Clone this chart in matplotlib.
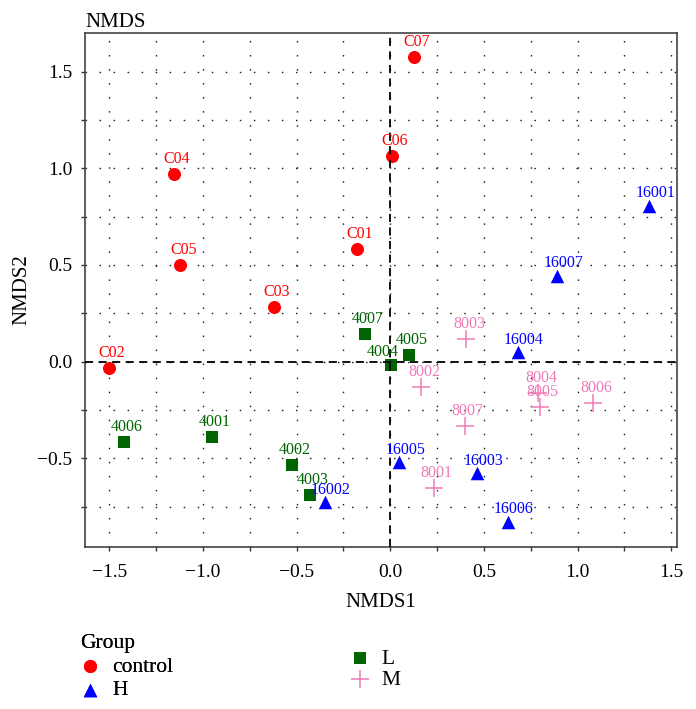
import matplotlib
matplotlib.use('Agg')
import matplotlib.pyplot as plt
from matplotlib.ticker import MultipleLocator

plt.rcParams['font.family'] = ['Liberation Serif', 'DejaVu Serif']

# Data
control_names = ['C01', 'C02', 'C03', 'C04', 'C05', 'C06', 'C07']
control_x = [-0.178, -1.502, -0.62, -1.153, -1.12, 0.007, 0.125]
control_y = [0.58, -0.031, 0.28, 0.969, 0.50, 1.066, 1.575]

L_names = ['4001', '4002', '4003', '4004', '4005', '4006', '4007']
L_x = [-0.95, -0.527, -0.43, 0.002, 0.098, -1.42, -0.133]
L_y = [-0.388, -0.536, -0.691, -0.02, 0.033, -0.414, 0.143]

M_names = ['8001', '8002', '8003', '8004', '8005', '8006', '8007']
M_x = [0.231, 0.166, 0.407, 0.79, 0.80, 1.084, 0.397]
M_y = [-0.652, -0.131, 0.117, -0.163, -0.233, -0.215, -0.333]

H_names = ['16001', '16002', '16003', '16004', '16005', '16006', '16007']
H_x = [1.383, -0.35, 0.465, 0.682, 0.048, 0.628, 0.892]
H_y = [0.807, -0.726, -0.577, 0.049, -0.52, -0.828, 0.445]

red = '#ff0000'
blue = '#0000ff'
green = '#006400'
pink = '#f07ab8'

fig = plt.figure(figsize=(6.96, 7.09), dpi=100)
ax = fig.add_axes([0.1221, 0.2285, 0.9727 - 0.1221, 0.9535 - 0.2285])

# dotted grid every 0.25
ax.xaxis.set_major_locator(MultipleLocator(0.5))
ax.xaxis.set_minor_locator(MultipleLocator(0.25))
ax.yaxis.set_major_locator(MultipleLocator(0.5))
ax.yaxis.set_minor_locator(MultipleLocator(0.25))
ax.grid(True, which='both', color='#222222', linestyle=(0, (1.1, 9)), linewidth=1.0)
ax.set_axisbelow(True)

h_c = ax.scatter(control_x, control_y, s=70, marker='o', color=red, zorder=3, label='control')
h_h = ax.scatter(H_x, H_y, s=95, marker='^', color=blue, zorder=3, label='H', linewidths=0)
h_l = ax.scatter(L_x, L_y, s=70, marker='s', color=green, zorder=3, label='L', linewidths=0)
h_m = ax.scatter(M_x, M_y, s=150, marker='+', color=pink, zorder=3, label='M', linewidths=1.1)

# zero lines on top
ax.axhline(0, color='black', linestyle=(0, (4.5, 3)), linewidth=1.3, zorder=4)
ax.axvline(0, color='black', linestyle=(0, (4.5, 3)), linewidth=1.3, zorder=4)


def put_labels(xs, ys, names, color, dx, dy):
    for x, y, n in zip(xs, ys, names):
        ox, oy = dx, dy
        if n == '4004':
            ox, oy = -5.5, 9.5
        ax.annotate(n, (x, y), xytext=(ox, oy), textcoords='offset points',
                    ha='center', va='center', color=color, fontsize=11.5, zorder=5)


put_labels(control_x, control_y, control_names, red, 2, 10.8)
put_labels(L_x, L_y, L_names, green, 2, 10.8)
put_labels(M_x, M_y, M_names, pink, 2, 10.8)
put_labels(H_x, H_y, H_names, blue, 4.3, 8.8)

ax.set_xlim(-1.630, 1.531)
ax.set_ylim(-0.959, 1.700)

ax.tick_params(which='both', direction='out', length=3, width=1, colors='#333333',
               labelsize=14, labelcolor='black')
ax.tick_params(axis='x', which='both', pad=9)
ax.tick_params(axis='y', which='both', pad=6)
for sp in ax.spines.values():
    sp.set_color('#444444')
    sp.set_linewidth(1.2)

ax.set_xlabel('NMDS1', fontsize=15, labelpad=9)
ax.set_ylabel('NMDS2', fontsize=15, labelpad=4)
ax.set_title('NMDS', loc='left', fontsize=15, pad=4)

leg1 = fig.legend(handles=[h_c, h_h], loc='upper left', bbox_to_anchor=(0.099, 0.121),
                  frameon=False, fontsize=15.5, title='Group', title_fontsize=15.5,
                  handlelength=1.0, handletextpad=0.5, borderpad=0, labelspacing=0.17,
                  alignment='left', scatterpoints=1)
leg2 = fig.legend(handles=[h_l, h_m], loc='upper left', bbox_to_anchor=(0.4856, 0.1),
                  frameon=False, fontsize=15.5, handlelength=1.0, handletextpad=0.5,
                  borderpad=0, labelspacing=0.05, scatterpoints=1)
fig.add_artist(leg1)

fig.savefig('out.png', dpi=100)
